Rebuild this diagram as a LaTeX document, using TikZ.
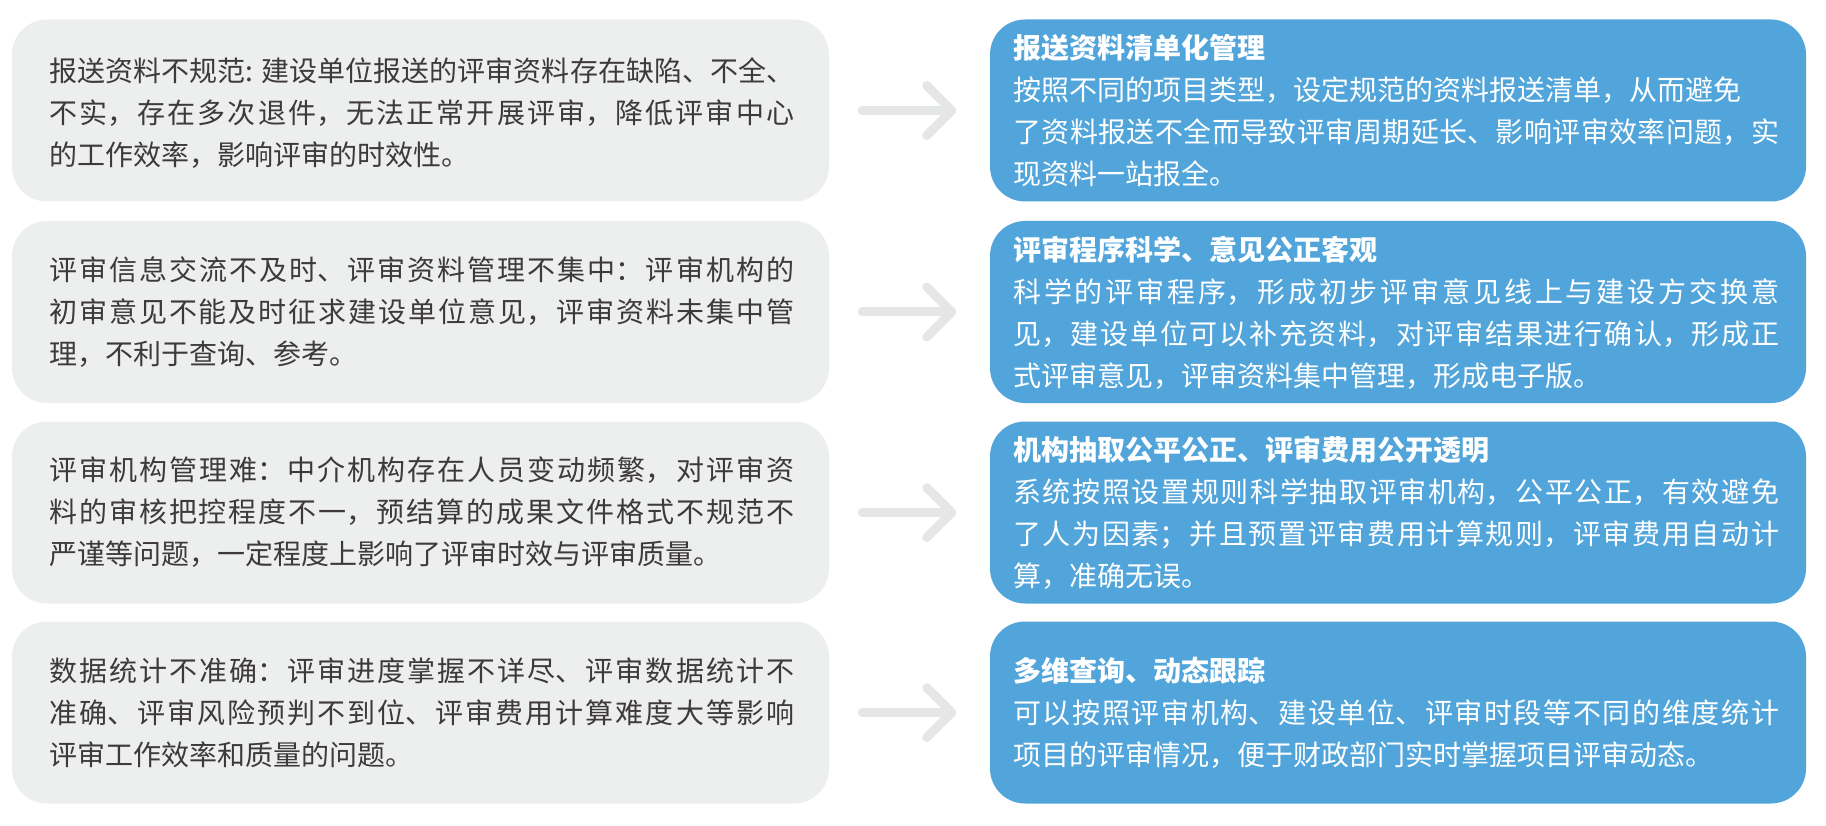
\documentclass[tikz,border=0pt]{standalone}
\usepackage{fontspec}
\setmainfont{Noto Sans CJK SC}
\XeTeXlinebreaklocale "zh"
\XeTeXlinebreakskip=0pt plus 4pt
\tolerance=10000
\hbadness=10000
\definecolor{boxgrey}{HTML}{EDEEEE}
\definecolor{boxblue}{HTML}{51A5DB}
\definecolor{textgrey}{HTML}{3E3A39}
\definecolor{arrowgrey}{HTML}{E5E6E6}
\tikzset{
  lbox/.style={fill=boxgrey, draw=none, rounded corners=35pt, minimum width=817pt, minimum height=182pt, inner sep=0pt},
  rbox/.style={fill=boxblue, draw=none, rounded corners=35pt, minimum width=816pt, minimum height=182pt, inner sep=0pt},
  ltext/.style={anchor=west, inner sep=0pt, text width=745pt, align=justify, text=textgrey, font=\fontsize{28pt}{42pt}\selectfont},
  rtext/.style={anchor=west, inner sep=0pt, text width=766pt, align=justify, text=white, font=\fontsize{28pt}{42pt}\selectfont},
  arr/.style={draw=arrowgrey, line width=9pt, line cap=round, line join=round},
}
\begin{document}
\begin{tikzpicture}[x=1pt,y=-1pt]
\useasboundingbox (0,0) rectangle (1826,826);
% left boxes
\node[lbox] (L1) at (420.5,110.5) {};
\node[lbox] (L2) at (420.5,312) {};
\node[lbox] (L3) at (420.5,512.5) {};
\node[lbox] (L4) at (420.5,712.5) {};
% right boxes
\node[rbox] (R1) at (1398,110.5) {};
\node[rbox] (R2) at (1398,312) {};
\node[rbox] (R3) at (1398,512.5) {};
\node[rbox] (R4) at (1398,712.5) {};
% left texts
\node[ltext] (LT1) at (49,113) {报送资料不规范: 建设单位报送的评审资料存在缺陷、不全、\linebreak 不实，存在多次退件，无法正常开展评审，降低评审中心\linebreak 的工作效率，影响评审的时效性。};
\node[ltext] (LT2) at (49,312) {评审信息交流不及时、评审资料管理不集中：评审机构的\linebreak 初审意见不能及时征求建设单位意见，评审资料未集中管\linebreak 理，不利于查询、参考。};
\node[ltext] (LT3) at (49,512.5) {评审机构管理难：中介机构存在人员变动频繁，对评审资\linebreak 料的审核把控程度不一，预结算的成果文件格式不规范不\linebreak 严谨等问题，一定程度上影响了评审时效与评审质量。};
\node[ltext] (LT4) at (49,712.5) {数据统计不准确：评审进度掌握不详尽、评审数据统计不\linebreak 准确、评审风险预判不到位、评审费用计算难度大等影响\linebreak 评审工作效率和质量的问题。};
% right texts
\node[rtext] (RT1) at (1013,111) {{\bfseries 报送资料清单化管理}\\按照不同的项目类型，设定规范的资料报送清单，从而避免\\了资料报送不全而导致评审周期延长、影响评审效率问题，实\linebreak 现资料一站报全。};
\node[rtext] (RT2) at (1013,312.5) {{\bfseries 评审程序科学、意见公正客观}\\科学的评审程序，形成初步评审意见线上与建设方交换意\linebreak 见，建设单位可以补充资料，对评审结果进行确认，形成正\linebreak 式评审意见，评审资料集中管理，形成电子版。};
\node[rtext] (RT3) at (1013,512.5) {{\bfseries 机构抽取公平公正、评审费用公开透明}\\系统按照设置规则科学抽取评审机构，公平公正，有效避免\linebreak 了人为因素；并且预置评审费用计算规则，评审费用自动计\linebreak 算，准确无误。};
\node[rtext] (RT4) at (1013,713) {{\bfseries 多维查询、动态跟踪}\\可以按照评审机构、建设单位、评审时段等不同的维度统计\linebreak 项目的评审情况，便于财政部门实时掌握项目评审动态。};
% arrows
\foreach \i in {1,2,3,4}{
  \draw[arr] ([xshift=33pt]L\i.east) -- ([xshift=-38pt]R\i.west);
  \draw[arr] ([xshift=-63pt,yshift=25pt]R\i.west) -- ([xshift=-38pt]R\i.west) -- ([xshift=-63pt,yshift=-25pt]R\i.west);
}
\end{tikzpicture}
\end{document}
